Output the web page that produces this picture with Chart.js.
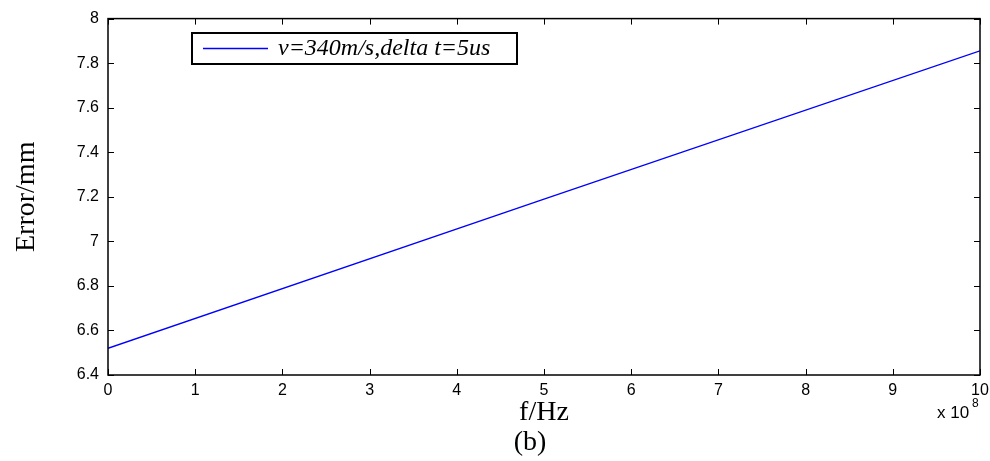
<!DOCTYPE html>
<html>
<head>
<meta charset="utf-8">
<script src="https://cdn.jsdelivr.net/npm/chart.js@4/dist/chart.umd.min.js"></script>
<style>
    html, body {margin: 0; padding: 0; background: #fff;}
    #wrap {width: 990px; height: 461px;}
</style>
</head>
<body>
<div id="wrap"><canvas id="ErrorChart" width="990" height="461"></canvas></div>
<script>
// ---------------- DATA -------------------
const FreqValues = [0, 5, 10]            // f, in units of 1e8 Hz
const ErrorValues = [6.52, 7.19, 7.855]  // Error/mm
const SeriesLabel = 'v=340m/s,delta t=5us'
const XTicks = [0, 1, 2, 3, 4, 5, 6, 7, 8, 9, 10]
const YTicks = [6.4, 6.6, 6.8, 7, 7.2, 7.4, 7.6, 7.8, 8]

// ---------------- PLUGINS -------------------
const FrameAndTicks = {
    id: 'frameAndTicks',
    afterDraw(chart) {
        const ctx = chart.ctx
        const a = chart.chartArea
        const xs = chart.scales.x
        const ys = chart.scales.y
        ctx.save()
        ctx.strokeStyle = '#000'
        ctx.lineWidth = 1.5
        ctx.strokeRect(a.left, a.top, a.right - a.left, a.bottom - a.top)
        ctx.lineWidth = 1
        ctx.beginPath()
        XTicks.forEach(v => {
            const px = Math.round(xs.getPixelForValue(v)) + 0.5
            ctx.moveTo(px, a.bottom); ctx.lineTo(px, a.bottom - 6)
            ctx.moveTo(px, a.top); ctx.lineTo(px, a.top + 6)
        })
        YTicks.forEach(v => {
            const py = Math.round(ys.getPixelForValue(v)) + 0.5
            ctx.moveTo(a.left, py); ctx.lineTo(a.left + 6, py)
            ctx.moveTo(a.right, py); ctx.lineTo(a.right - 6, py)
        })
        ctx.stroke()

        // legend box
        ctx.fillStyle = '#fff'
        ctx.fillRect(192, 33, 325, 31)
        ctx.lineWidth = 2
        ctx.strokeRect(192, 33, 325, 31)
        ctx.strokeStyle = chart.data.datasets[0].borderColor
        ctx.lineWidth = 1.3
        ctx.beginPath(); ctx.moveTo(203, 48.5); ctx.lineTo(268, 48.5); ctx.stroke()
        ctx.fillStyle = '#000'
        ctx.font = 'italic 24px "Liberation Serif"'
        ctx.textBaseline = 'middle'
        ctx.textAlign = 'left'
        ctx.fillText(chart.data.datasets[0].label, 278, 49)

        // exponent and caption
        ctx.font = '17px "Liberation Sans"'
        ctx.textAlign = 'left'
        ctx.fillText('x 10', 937, 413)
        ctx.font = '12px "Liberation Sans"'
        ctx.fillText('8', 972, 404)
        ctx.font = '28px "Liberation Serif"'
        ctx.textAlign = 'center'
        ctx.fillText('(b)', 530, 443)
        ctx.restore()
    }
}

// ---------------- CHART -------------------
const ErrorChart = document.getElementById('ErrorChart').getContext('2d')
new Chart(ErrorChart, {
    type: 'line',
    data: {
        labels: FreqValues,
        datasets: [{
            label: SeriesLabel,
            data: FreqValues.map((f, i) => ({x: f, y: ErrorValues[i]})),
            borderColor: '#0000ff',
            borderWidth: 1.3,
            pointRadius: 0,
            fill: false,
            tension: 0
        }]
    },
    options: {
        responsive: false,
        animation: false,
        layout: {padding: {left: 0, top: 15, right: 0, bottom: 0}},
        plugins: {
            legend: {display: false},
            tooltip: {enabled: false}
        },
        scales: {
            x: {
                type: 'linear',
                min: 0,
                max: 10,
                afterFit: s => { s.height = 86; s.paddingRight = 10; s.paddingLeft = 0 },
                afterBuildTicks: s => { s.ticks = XTicks.map(v => ({value: v})) },
                grid: {display: false, drawTicks: false},
                border: {display: false},
                ticks: {
                    color: '#000',
                    padding: 6,
                    maxRotation: 0,
                    font: {family: 'Liberation Sans', size: 16}
                },
                title: {
                    display: true,
                    text: 'f/Hz',
                    color: '#000',
                    padding: {top: 0, bottom: 32},
                    font: {family: 'Liberation Serif', size: 28}
                }
            },
            y: {
                min: 6.4,
                max: 8,
                afterFit: s => { s.width = 108 },
                afterBuildTicks: s => { s.ticks = YTicks.map(v => ({value: v})) },
                grid: {display: false, drawTicks: false},
                border: {display: false},
                ticks: {
                    color: '#000',
                    padding: 9,
                    font: {family: 'Liberation Sans', size: 16},
                    callback: v => String(Number(v.toFixed(1)))
                },
                title: {
                    display: true,
                    text: 'Error/mm',
                    color: '#000',
                    padding: {top: 10, bottom: 0},
                    font: {family: 'Liberation Serif', size: 28}
                }
            }
        }
    },
    plugins: [FrameAndTicks]
})
</script>
</body>
</html>
